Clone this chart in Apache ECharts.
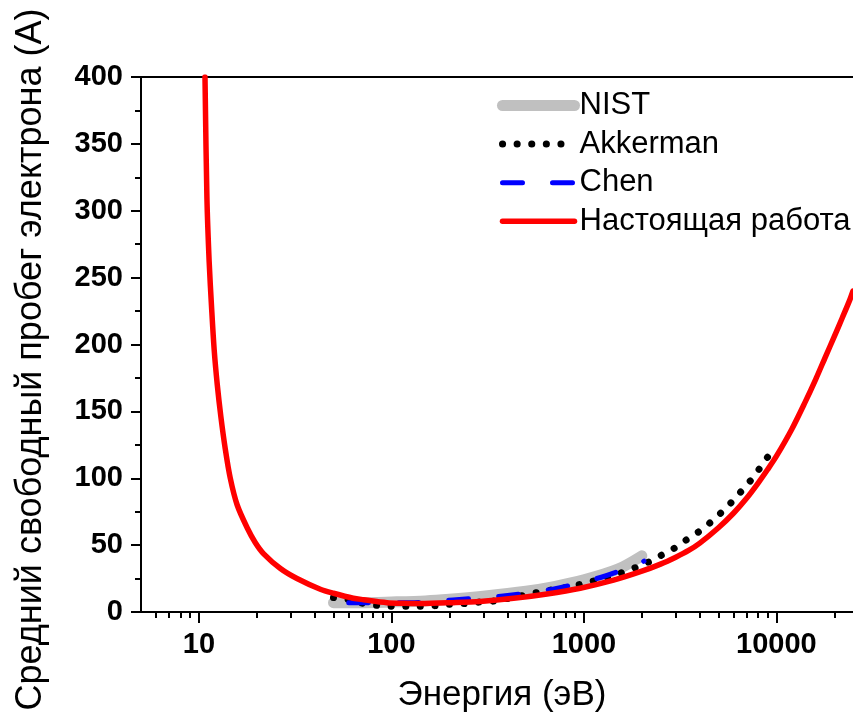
<!DOCTYPE html>
<html>
<head>
<meta charset="utf-8">
<script src="https://cdn.jsdelivr.net/npm/echarts@6/dist/echarts.min.js"></script>
<style>html,body{margin:0;padding:0;background:#fff}#c{width:853px;height:718px}</style>
</head>
<body>
<div id="c"></div>
<script>
// ---- Data ----
const xTickLabels = [10, 100, 1000, 10000];
const xMinorTicks = [6,7,8,9,20,30,40,50,60,70,80,90,200,300,400,500,600,700,800,900,2000,3000,4000,5000,6000,7000,8000,9000,20000];

const nistE = [50, 70, 100, 150, 200, 300, 500, 700, 1000, 1500, 2000];
const nistV = [7, 7, 7.5, 8.3, 9.5, 11.8, 15.5, 19, 24, 32, 42];

const akkE = [50, 60, 70, 84, 100, 120, 140, 170, 200, 240, 290, 340, 480, 570, 950, 1560, 2140, 2490, 2900, 3330, 3830, 4360, 4950, 5650, 6340, 7080, 7830, 8620, 9440];
const akkV = [10.8, 9.3, 6.7, 5.0, 4.3, 4.3, 4.3, 4.8, 5.8, 6.3, 7.5, 8.2, 12.3, 14.5, 20.5, 29.2, 37, 42, 47, 53, 58.6, 64.8, 71.8, 79.8, 87.8, 95.5, 103.5, 112, 120];

const chenE = [60, 125, 209, 381, 710, 1231, 1940, 2050];
const chenV = [7, 6.9, 9, 12, 17.5, 26, 36.2, 38];

const redE = [10.75, 11.0, 11.3, 11.65, 12.0, 12.45, 13.0, 13.7, 14.55, 15.8, 17.8, 19.6, 21.7, 26.5, 32.3, 42.7, 50, 63.4, 71.7, 94.8, 115, 141, 210, 289, 431, 643, 957, 1425, 2000, 2500, 3000, 3500, 4000, 5000, 6000, 7000, 8000, 9000, 10000, 12000, 14000, 16000, 18000, 20000, 22000, 24000, 25000];
const redV = [400, 310, 262, 226, 196, 170, 146, 122, 100, 80, 63, 52, 43.5, 32.5, 25, 17, 14, 10.3, 9.2, 7.0, 6.5, 6.3, 7.0, 7.9, 10.2, 13.5, 17.8, 23.8, 30.5, 35.8, 41, 46, 51.5, 63, 74, 85, 96, 106.5, 116.5, 136.5, 156, 174, 191, 206, 220, 233, 240];

const seriesNames = ['NIST', 'Akkerman', 'Chen', 'Настоящая работа'];
const xName = 'Энергия (эВ)';
const yName = 'Средний свободный пробег электрона (А)';

// ---- Chart ----
const FONT = 'Liberation Sans, Arial, sans-serif';
const pair = (xs, ys) => xs.map((x, i) => [x, ys[i]]);

const styles = {
  'NIST': {color: '#c0c0c0', width: 11, type: 'solid', cap: 'round'},
  'Akkerman': {color: '#000000', width: 7, type: [0.1, 14.5], cap: 'round'},
  'Chen': {color: '#0000ff', width: 5, type: [20, 30], cap: 'round'},
  'Настоящая работа': {color: '#ff0000', width: 5.5, type: 'solid', cap: 'round'}
};
const datas = [pair(nistE, nistV), pair(akkE, akkV), pair(chenE, chenV), pair(redE, redV)];

const chart = echarts.init(document.getElementById('c'), null, {renderer: 'canvas'});

chart.setOption({
  animation: false,
  backgroundColor: '#fff',
  grid: {left: 141, right: 0, top: 77, bottom: 106},
  legend: {
    orient: 'vertical', left: 497, top: 90, padding: 0,
    itemWidth: 72, itemHeight: 12, itemGap: 7.6,
    textStyle: {fontFamily: FONT, fontSize: 31, color: '#000', lineHeight: 30},
    data: seriesNames.map(n => ({
      name: n,
      itemStyle: {color: 'rgba(0,0,0,0)', borderWidth: 0, opacity: 0},
      lineStyle: {color: styles[n].color, width: styles[n].width, type: styles[n].type, cap: styles[n].cap}
    }))
  },
  xAxis: [
    {
      type: 'log', min: 5, max: 25000, logBase: 10,
      name: xName, nameLocation: 'middle', nameGap: 66,
      nameTextStyle: {fontFamily: FONT, fontSize: 35, color: '#000', padding: [0, 0, 0, 10]},
      axisLine: {show: true, onZero: false, lineStyle: {color: '#000', width: 2}},
      axisTick: {show: true, inside: false, length: 11, lineStyle: {color: '#000', width: 2}, customValues: xTickLabels},
      axisLabel: {fontFamily: FONT, fontSize: 29, fontWeight: 'bold', color: '#000', margin: 18,
        customValues: xTickLabels, formatter: v => String(Math.round(v))},
      splitLine: {show: false}, minorTick: {show: false}, minorSplitLine: {show: false}
    },
    {
      type: 'log', min: 5, max: 25000, logBase: 10, position: 'bottom',
      axisLine: {show: false},
      axisTick: {show: true, inside: false, length: 6, lineStyle: {color: '#000', width: 2}, customValues: xMinorTicks},
      axisLabel: {show: false},
      splitLine: {show: false}
    },
    {
      type: 'log', min: 5, max: 25000, logBase: 10, position: 'top',
      axisLine: {show: true, onZero: false, lineStyle: {color: '#000', width: 2}},
      axisTick: {show: false}, axisLabel: {show: false}, splitLine: {show: false}
    }
  ],
  yAxis: [{
    type: 'value', min: 0, max: 400, interval: 50,
    name: yName, nameLocation: 'middle', nameGap: 92,
    nameTextStyle: {fontFamily: FONT, fontSize: 36, color: '#000', padding: [0, 30, 0, 0]},
    axisLine: {show: true, onZero: false, lineStyle: {color: '#000', width: 2}},
    axisTick: {show: true, inside: false, length: 10, lineStyle: {color: '#000', width: 2}},
    minorTick: {show: true, splitNumber: 2, length: 6, lineStyle: {color: '#000', width: 2}},
    axisLabel: {fontFamily: FONT, fontSize: 29, fontWeight: 'bold', color: '#000', margin: 18},
    splitLine: {show: false}
  }],
  series: seriesNames.map((n, i) => ({
    name: n, type: 'line', xAxisIndex: 0, yAxisIndex: 0,
    data: datas[i], symbol: 'none', showSymbol: false, smooth: 0.3,
    clip: true,
    lineStyle: {color: styles[n].color, width: styles[n].width, type: styles[n].type, cap: styles[n].cap, join: 'round'},
    itemStyle: {color: styles[n].color},
    z: 2 + i
  }))
});
</script>
</body>
</html>
